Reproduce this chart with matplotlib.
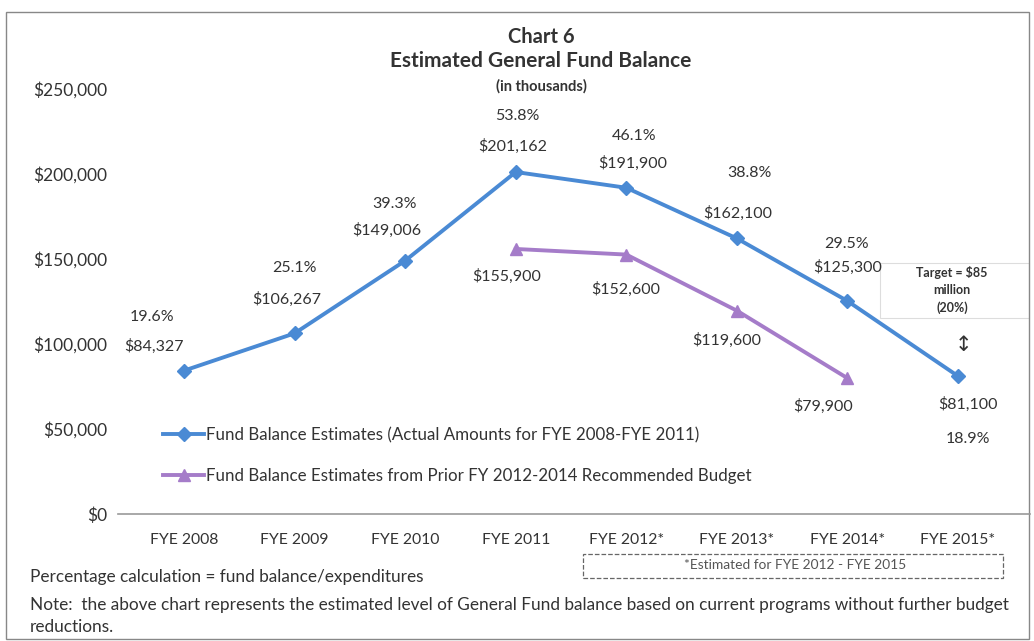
import matplotlib.pyplot as plt
from matplotlib.patches import Rectangle
from matplotlib.ticker import FuncFormatter

plt.rcParams['font.family'] = ['Lato', 'DejaVu Sans']

years = ["FYE 2008", "FYE 2009", "FYE 2010", "FYE 2011", "FYE 2012*", "FYE 2013*", "FYE 2014*", "FYE 2015*"]
actual = [84327, 106267, 149006, 201162, 191900, 162100, 125300, 81100]
pct = ["19.6%", "25.1%", "39.3%", "53.8%", "46.1%", "38.8%", "29.5%", "18.9%"]
prior_idx = [3, 4, 5, 6]
prior = [155900, 152600, 119600, 79900]

blue = "#4a8ad4"
purple = "#a57cc9"
txt = "#333333"

fig = plt.figure(figsize=(10.34, 6.41), dpi=100)
ax = fig.add_axes([118 / 1034, 1 - 514 / 641, 912 / 1034, 425 / 641])
ax.set_zorder(2)
ax.patch.set_alpha(0)

x = list(range(len(years)))
ax.plot(x, actual, color=blue, lw=2.8, marker="D", ms=7, mfc=blue, mec=blue,
        label="Fund Balance Estimates (Actual Amounts for FYE 2008-FYE 2011)", zorder=3)
ax.plot(prior_idx, prior, color=purple, lw=2.8, marker="^", ms=9, mfc=purple, mec=purple,
        label="Fund Balance Estimates from Prior FY 2012-2014 Recommended Budget", zorder=3)

ax.set_xlim(-0.597, 7.651)
ax.set_ylim(0, 250000)
ax.set_yticks([0, 50000, 100000, 150000, 200000, 250000])
ax.yaxis.set_major_formatter(FuncFormatter(lambda v, p: "$0" if v == 0 else f"${v:,.0f}"))
ax.set_xticks(x)
ax.set_xticklabels(years)
ax.tick_params(axis="both", length=0, colors=txt)
ax.tick_params(axis="y", pad=8, labelsize=12.5)
ax.tick_params(axis="x", pad=14, labelsize=11.3)
for s in ["top", "right", "left"]:
    ax.spines[s].set_visible(False)
ax.spines["bottom"].set_color("#999999")
ax.spines["bottom"].set_linewidth(1.2)

# blue labels (value + percent)
val_off = [(-30, 24), (-8, 34), (-18, 30), (-3, 26), (6, 24), (1, 25), (0, 34), (10, -28)]
pct_off = [(-32, 54), (0, 65), (-11, 57), (2, 56), (8, 52), (13, 65), (-1, 57), (10, -63)]
for i, v in enumerate(actual):
    dx, dy = val_off[i]
    ax.annotate(f"${v:,.0f}", (i, v), xytext=(dx, dy), textcoords="offset pixels",
                ha="center", va="center", fontsize=11.5, color=txt)
    dx, dy = pct_off[i]
    ax.annotate(pct[i], (i, v), xytext=(dx, dy), textcoords="offset pixels",
                ha="center", va="center", fontsize=11.5, color=txt)

# purple labels
p_off = [(-9, -27), (-1, -35), (-10, -30), (-24, -28)]
for (i, v), (dx, dy) in zip(zip(prior_idx, prior), p_off):
    ax.annotate(f"${v:,.0f}", (i, v), xytext=(dx, dy), textcoords="offset pixels",
                ha="center", va="center", fontsize=11.5, color=txt)

ax.legend(loc="upper left", bbox_to_anchor=(30 / 912, 102 / 425), frameon=False,
          fontsize=12.2, handlelength=2.4, handletextpad=0.1, labelspacing=1.45,
          labelcolor=txt)

# titles
fig.text(541 / 1034, 1 - 37 / 641, "Chart 6", ha="center", va="center",
         fontsize=14.5, fontweight="bold", color=txt)
fig.text(541 / 1034, 1 - 61 / 641, "Estimated General Fund Balance", ha="center", va="center",
         fontsize=15, fontweight="bold", color=txt)
fig.text(541 / 1034, 1 - 86 / 641, "(in thousands)", ha="center", va="center",
         fontsize=10.5, fontweight="bold", color=txt)

# target box
fig.patches.append(Rectangle((880 / 1034, 1 - 318 / 641), 149 / 1034, 55 / 641,
                             transform=fig.transFigure, fc="white", ec="#dddddd", lw=0.8, zorder=1))
fig.text(952 / 1034, 1 - 290 / 641, "Target = $85\nmillion\n(20%)", ha="center", va="center",
         fontsize=9, fontweight="bold", color=txt, linespacing=1.5, zorder=3)
fig.text(963 / 1034, 1 - 345 / 641, "\u2195", ha="center", va="center",
         fontsize=15, color=txt, family="DejaVu Sans", zorder=3)

# footnote box
fig.patches.append(Rectangle((583 / 1034, 1 - 578 / 641), 420 / 1034, 24 / 641,
                             transform=fig.transFigure, fc="none", ec="#666666", lw=0.9, ls="--"))
fig.text(795 / 1034, 1 - 565 / 641, "*Estimated for FYE 2012 - FYE 2015", ha="center", va="center",
         fontsize=9.9, color="#555555")

fig.text(30 / 1034, 1 - 577 / 641, "Percentage calculation = fund balance/expenditures",
         ha="left", va="center", fontsize=12.4, color=txt)
fig.text(30 / 1034, 1 - 605 / 641,
         "Note:  the above chart represents the estimated level of General Fund balance based on current programs without further budget",
         ha="left", va="center", fontsize=12.4, color=txt)
fig.text(30 / 1034, 1 - 627 / 641, "reductions.", ha="left", va="center", fontsize=12.4, color=txt)

# outer border
fig.patches.append(Rectangle((6 / 1034, 1 - 639 / 641), 1023 / 1034, 627 / 641,
                             transform=fig.transFigure, fc="none", ec="#888888", lw=1.0))

fig.savefig("out.png", dpi=100)
